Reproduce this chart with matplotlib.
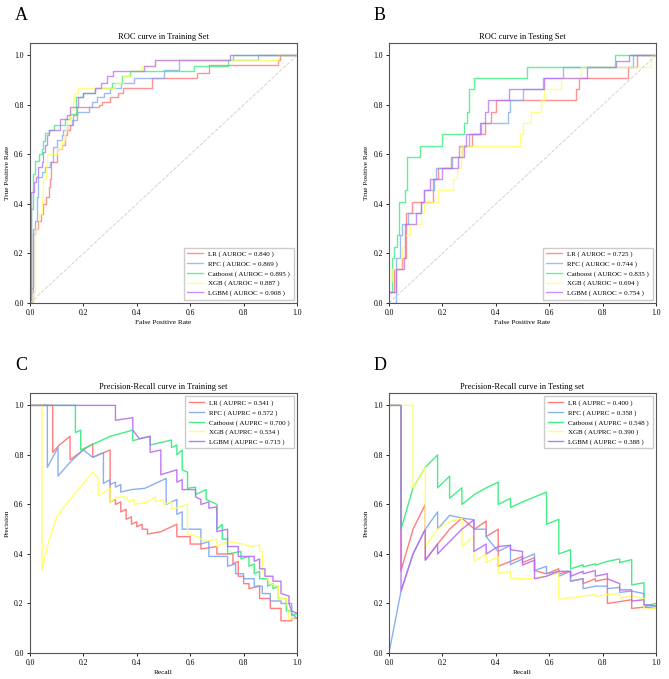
import matplotlib
matplotlib.use('Agg')
from matplotlib import pyplot as plt

plt.rcParams['font.family'] = ['Liberation Serif', 'DejaVu Serif']

models = ['LR', 'RFC', 'Catboost', 'XGB', 'LGBM']
colors = ['#ff6f6f', '#7fa6f0', '#30ec78', '#ffff5c', '#b86cf2']

auroc_train = [0.840, 0.869, 0.895, 0.887, 0.908]
auroc_test = [0.725, 0.744, 0.835, 0.694, 0.754]
auprc_train = [0.541, 0.572, 0.700, 0.534, 0.715]
auprc_test = [0.400, 0.358, 0.548, 0.390, 0.388]

# ROC, training set (corner points, drawn as steps-post)
roc_tr_fpr = {
    'LR': [0, 0.01, 0.03, 0.04, 0.05, 0.06, 0.07, 0.075, 0.08, 0.1, 0.12, 0.13, 0.14, 0.15, 0.16, 0.175, 0.26, 0.27, 0.3, 0.33, 0.35, 0.458, 0.627, 0.671, 0.928, 0.935, 1.0],
    'RFC': [0, 0.005, 0.01, 0.02, 0.025, 0.03, 0.044, 0.056, 0.075, 0.088, 0.1, 0.12, 0.125, 0.138, 0.157, 0.175, 0.22, 0.232, 0.25, 0.276, 0.3, 0.34, 0.39, 0.5, 0.558, 0.853, 1.0],
    'Catboost': [0, 0.003, 0.0125, 0.019, 0.035, 0.044, 0.05, 0.056, 0.073, 0.09, 0.13, 0.15, 0.173, 0.198, 0.245, 0.306, 0.345, 0.376, 0.615, 0.74, 0.76, 1.0],
    'XGB': [0, 0.012, 0.02, 0.035, 0.045, 0.05, 0.06, 0.065, 0.1, 0.12, 0.13, 0.14, 0.15, 0.16, 0.165, 0.18, 0.32, 0.35, 0.38, 0.42, 0.47, 0.93, 1.0],
    'LGBM': [0, 0.003, 0.016, 0.022, 0.03, 0.044, 0.05, 0.056, 0.063, 0.073, 0.113, 0.138, 0.15, 0.18, 0.2, 0.245, 0.265, 0.29, 0.31, 0.427, 0.47, 0.75, 1.0],
}
roc_tr_tpr = {
    'LR': [0, 0.30, 0.33, 0.36, 0.40, 0.43, 0.47, 0.50, 0.57, 0.62, 0.64, 0.68, 0.70, 0.72, 0.76, 0.79, 0.80, 0.81, 0.83, 0.85, 0.87, 0.91, 0.93, 0.96, 0.98, 1.0, 1.0],
    'RFC': [0, 0.06, 0.28, 0.33, 0.43, 0.51, 0.53, 0.55, 0.57, 0.63, 0.66, 0.68, 0.70, 0.72, 0.74, 0.77, 0.79, 0.81, 0.83, 0.85, 0.87, 0.89, 0.91, 0.94, 0.98, 1.0, 1.0],
    'Catboost': [0, 0.38, 0.52, 0.575, 0.60, 0.62, 0.655, 0.685, 0.70, 0.72, 0.745, 0.765, 0.83, 0.85, 0.87, 0.89, 0.915, 0.936, 0.957, 0.98, 1.0, 1.0],
    'XGB': [0, 0.04, 0.30, 0.36, 0.43, 0.50, 0.56, 0.60, 0.62, 0.66, 0.70, 0.74, 0.78, 0.82, 0.85, 0.87, 0.89, 0.915, 0.936, 0.957, 0.98, 1.0, 1.0],
    'LGBM': [0, 0.45, 0.49, 0.51, 0.55, 0.57, 0.61, 0.64, 0.68, 0.70, 0.745, 0.76, 0.79, 0.83, 0.85, 0.87, 0.89, 0.915, 0.936, 0.957, 0.98, 1.0, 1.0],
}

# ROC, testing set
roc_te_fpr = {
    'LR': [0, 0.02, 0.05, 0.065, 0.088, 0.165, 0.184, 0.234, 0.262, 0.31, 0.36, 0.382, 0.40, 0.70, 0.71, 0.895, 0.93, 1.0],
    'RFC': [0, 0.0275, 0.04, 0.05, 0.07, 0.12, 0.13, 0.17, 0.175, 0.235, 0.275, 0.30, 0.345, 0.445, 0.455, 0.50, 0.575, 0.65, 0.915, 1.0],
    'Catboost': [0, 0.01, 0.02, 0.03, 0.0375, 0.059, 0.069, 0.115, 0.20, 0.28, 0.294, 0.30, 0.32, 0.515, 0.845, 1.0],
    'XGB': [0, 0.01, 0.045, 0.05, 0.06, 0.08, 0.12, 0.13, 0.185, 0.24, 0.255, 0.27, 0.275, 0.49, 0.50, 0.53, 0.57, 0.58, 0.645, 0.72, 0.98, 1.0],
    'LGBM': [0, 0.025, 0.055, 0.06, 0.10, 0.12, 0.13, 0.155, 0.20, 0.26, 0.28, 0.29, 0.34, 0.36, 0.37, 0.45, 0.58, 0.74, 0.80, 0.85, 0.90, 1.0],
}
roc_te_tpr = {
    'LR': [0.045, 0.136, 0.182, 0.364, 0.409, 0.50, 0.545, 0.591, 0.636, 0.682, 0.727, 0.773, 0.818, 0.864, 0.909, 0.955, 1.0, 1.0],
    'RFC': [0, 0.182, 0.273, 0.318, 0.364, 0.409, 0.455, 0.50, 0.545, 0.591, 0.636, 0.682, 0.727, 0.773, 0.818, 0.864, 0.909, 0.955, 1.0, 1.0],
    'Catboost': [0.045, 0.182, 0.227, 0.273, 0.409, 0.455, 0.591, 0.636, 0.682, 0.727, 0.773, 0.864, 0.909, 0.955, 1.0, 1.0],
    'XGB': [0.09, 0.136, 0.182, 0.227, 0.273, 0.318, 0.364, 0.409, 0.455, 0.50, 0.545, 0.591, 0.636, 0.682, 0.727, 0.773, 0.818, 0.864, 0.909, 0.955, 1.0, 1.0],
    'LGBM': [0.045, 0.136, 0.182, 0.318, 0.364, 0.409, 0.455, 0.50, 0.545, 0.591, 0.636, 0.682, 0.727, 0.773, 0.818, 0.864, 0.909, 0.955, 0.955, 0.977, 1.0, 1.0],
}

# Precision-Recall, training set (vertices)
pr_tr_rec = {
    'LR': [0, 0.085, 0.085, 0.11, 0.15, 0.15, 0.2, 0.235, 0.235, 0.3, 0.3, 0.32, 0.32, 0.34, 0.34, 0.36, 0.36, 0.38, 0.38, 0.4, 0.4, 0.42, 0.42, 0.44, 0.44, 0.49, 0.55, 0.55, 0.6, 0.6, 0.64, 0.64, 0.7, 0.7, 0.76, 0.76, 0.78, 0.78, 0.8, 0.8, 0.82, 0.82, 0.86, 0.86, 0.9, 0.9, 0.94, 0.94, 0.98, 0.98, 1.0],
    'RFC': [0, 0.065, 0.065, 0.105, 0.105, 0.15, 0.2, 0.235, 0.275, 0.275, 0.3, 0.3, 0.32, 0.32, 0.34, 0.34, 0.38, 0.43, 0.51, 0.51, 0.55, 0.55, 0.57, 0.57, 0.64, 0.64, 0.67, 0.67, 0.74, 0.74, 0.77, 0.77, 0.8, 0.8, 0.84, 0.84, 0.87, 0.87, 0.9, 0.9, 0.94, 0.94, 0.98, 0.98, 1.0],
    'Catboost': [0, 0.17, 0.17, 0.19, 0.19, 0.25, 0.3, 0.385, 0.385, 0.41, 0.45, 0.45, 0.53, 0.53, 0.55, 0.55, 0.57, 0.57, 0.59, 0.59, 0.62, 0.62, 0.66, 0.66, 0.7, 0.7, 0.72, 0.72, 0.74, 0.74, 0.79, 0.79, 0.82, 0.82, 0.84, 0.84, 0.86, 0.86, 0.89, 0.89, 0.91, 0.91, 0.93, 0.93, 0.96, 0.96, 0.98, 0.98, 1.0],
    'XGB': [0, 0.045, 0.045, 0.07, 0.1, 0.15, 0.2, 0.235, 0.255, 0.255, 0.3, 0.3, 0.33, 0.36, 0.37, 0.39, 0.39, 0.44, 0.47, 0.47, 0.5, 0.5, 0.53, 0.53, 0.59, 0.59, 0.63, 0.65, 0.7, 0.7, 0.74, 0.8, 0.82, 0.86, 0.86, 0.87, 0.87, 0.89, 0.9, 0.93, 0.93, 0.96, 0.97, 1.0],
    'LGBM': [0, 0.32, 0.32, 0.385, 0.385, 0.41, 0.45, 0.45, 0.49, 0.49, 0.55, 0.55, 0.57, 0.57, 0.62, 0.62, 0.64, 0.64, 0.67, 0.67, 0.7, 0.7, 0.74, 0.74, 0.78, 0.78, 0.84, 0.84, 0.86, 0.86, 0.88, 0.88, 0.91, 0.91, 0.94, 0.94, 0.97, 0.97, 0.98, 1.0],
}
pr_tr_prec = {
    'LR': [1, 1, 0.81, 0.84, 0.875, 0.78, 0.82, 0.845, 0.79, 0.82, 0.61, 0.62, 0.60, 0.61, 0.57, 0.58, 0.54, 0.55, 0.52, 0.53, 0.51, 0.52, 0.50, 0.50, 0.48, 0.49, 0.52, 0.47, 0.47, 0.44, 0.44, 0.42, 0.43, 0.40, 0.40, 0.36, 0.37, 0.31, 0.31, 0.28, 0.28, 0.26, 0.27, 0.22, 0.22, 0.18, 0.18, 0.13, 0.13, 0.14, 0.14],
    'RFC': [1, 1, 0.75, 0.83, 0.715, 0.77, 0.82, 0.79, 0.81, 0.685, 0.70, 0.68, 0.69, 0.67, 0.68, 0.65, 0.66, 0.665, 0.705, 0.60, 0.62, 0.56, 0.57, 0.50, 0.50, 0.44, 0.45, 0.39, 0.39, 0.35, 0.36, 0.32, 0.32, 0.30, 0.30, 0.27, 0.27, 0.24, 0.24, 0.21, 0.21, 0.20, 0.20, 0.16, 0.14],
    'Catboost': [1, 1, 0.89, 0.90, 0.82, 0.85, 0.875, 0.90, 0.857, 0.865, 0.875, 0.84, 0.86, 0.83, 0.84, 0.80, 0.82, 0.74, 0.73, 0.665, 0.67, 0.64, 0.66, 0.62, 0.60, 0.50, 0.52, 0.46, 0.46, 0.40, 0.41, 0.38, 0.39, 0.35, 0.36, 0.32, 0.33, 0.30, 0.30, 0.27, 0.28, 0.26, 0.27, 0.22, 0.22, 0.17, 0.17, 0.15, 0.16],
    'XGB': [1, 1, 0.335, 0.45, 0.55, 0.62, 0.685, 0.73, 0.705, 0.635, 0.665, 0.61, 0.63, 0.63, 0.61, 0.62, 0.60, 0.61, 0.63, 0.61, 0.62, 0.60, 0.61, 0.58, 0.60, 0.48, 0.47, 0.45, 0.46, 0.43, 0.45, 0.44, 0.43, 0.435, 0.41, 0.41, 0.33, 0.30, 0.28, 0.27, 0.22, 0.22, 0.14, 0.135],
    'LGBM': [1, 1, 0.94, 0.95, 0.90, 0.865, 0.875, 0.81, 0.82, 0.72, 0.74, 0.69, 0.70, 0.66, 0.66, 0.63, 0.62, 0.60, 0.61, 0.585, 0.59, 0.49, 0.50, 0.43, 0.43, 0.39, 0.39, 0.37, 0.38, 0.34, 0.34, 0.31, 0.31, 0.29, 0.29, 0.24, 0.23, 0.20, 0.17, 0.16],
}

# Precision-Recall, testing set (vertices)
pr_te_rec = {
    'LR': [0, 0.045, 0.045, 0.09, 0.136, 0.136, 0.182, 0.227, 0.273, 0.32, 0.364, 0.364, 0.409, 0.409, 0.455, 0.5, 0.5, 0.545, 0.545, 0.59, 0.636, 0.636, 0.68, 0.68, 0.727, 0.727, 0.773, 0.773, 0.818, 0.818, 0.909, 0.909, 0.955, 1.0],
    'RFC': [0, 0.045, 0.09, 0.136, 0.182, 0.182, 0.227, 0.273, 0.318, 0.318, 0.364, 0.364, 0.409, 0.455, 0.455, 0.5, 0.545, 0.545, 0.59, 0.59, 0.636, 0.636, 0.68, 0.68, 0.727, 0.727, 0.773, 0.818, 0.818, 0.864, 0.864, 0.909, 0.955, 0.955, 1.0],
    'Catboost': [0, 0.045, 0.045, 0.09, 0.136, 0.182, 0.182, 0.227, 0.227, 0.273, 0.273, 0.32, 0.364, 0.409, 0.409, 0.455, 0.455, 0.5, 0.545, 0.59, 0.59, 0.636, 0.636, 0.68, 0.68, 0.727, 0.727, 0.773, 0.773, 0.818, 0.864, 0.864, 0.909, 0.909, 0.955, 0.955, 1.0],
    'XGB': [0, 0.09, 0.09, 0.136, 0.136, 0.182, 0.227, 0.273, 0.273, 0.318, 0.318, 0.364, 0.364, 0.409, 0.409, 0.455, 0.455, 0.5, 0.5, 0.59, 0.636, 0.636, 0.68, 0.68, 0.727, 0.773, 0.773, 0.818, 0.864, 0.864, 0.909, 0.955, 0.955, 1.0],
    'LGBM': [0, 0.045, 0.045, 0.09, 0.136, 0.136, 0.182, 0.182, 0.227, 0.273, 0.318, 0.318, 0.364, 0.364, 0.409, 0.455, 0.455, 0.5, 0.5, 0.545, 0.545, 0.59, 0.636, 0.68, 0.68, 0.727, 0.727, 0.773, 0.773, 0.818, 0.818, 0.864, 0.864, 0.909, 0.909, 0.955, 0.955, 1.0],
}
pr_te_prec = {
    'LR': [1, 1, 0.333, 0.50, 0.60, 0.375, 0.44, 0.50, 0.545, 0.50, 0.533, 0.47, 0.50, 0.35, 0.37, 0.39, 0.365, 0.385, 0.333, 0.32, 0.34, 0.32, 0.33, 0.29, 0.30, 0.28, 0.30, 0.29, 0.30, 0.20, 0.215, 0.18, 0.185, 0.18],
    'RFC': [0, 0.25, 0.40, 0.50, 0.57, 0.50, 0.556, 0.545, 0.538, 0.50, 0.50, 0.47, 0.41, 0.435, 0.357, 0.38, 0.40, 0.333, 0.35, 0.32, 0.33, 0.31, 0.33, 0.29, 0.30, 0.26, 0.27, 0.27, 0.26, 0.265, 0.245, 0.25, 0.24, 0.19, 0.19],
    'Catboost': [1, 1, 0.50, 0.667, 0.75, 0.80, 0.667, 0.714, 0.625, 0.667, 0.60, 0.64, 0.667, 0.69, 0.60, 0.625, 0.588, 0.61, 0.63, 0.65, 0.52, 0.54, 0.40, 0.417, 0.34, 0.356, 0.348, 0.36, 0.355, 0.37, 0.38, 0.365, 0.377, 0.275, 0.284, 0.19, 0.20],
    'XGB': [1, 1, 0.667, 0.75, 0.43, 0.50, 0.53, 0.545, 0.43, 0.47, 0.37, 0.40, 0.365, 0.39, 0.32, 0.33, 0.303, 0.30, 0.297, 0.31, 0.325, 0.215, 0.225, 0.222, 0.23, 0.235, 0.228, 0.236, 0.24, 0.222, 0.23, 0.22, 0.176, 0.18],
    'LGBM': [1, 1, 0.25, 0.40, 0.50, 0.375, 0.44, 0.40, 0.45, 0.50, 0.538, 0.41, 0.44, 0.40, 0.43, 0.435, 0.417, 0.41, 0.355, 0.375, 0.30, 0.31, 0.33, 0.33, 0.31, 0.33, 0.32, 0.333, 0.31, 0.32, 0.30, 0.28, 0.255, 0.255, 0.21, 0.215, 0.196, 0.19],
}

W, H = 669, 679
fig = plt.figure(figsize=(W / 100, H / 100), dpi=100)

# axes boxes in pixels: left, top ; letter centre y
boxes = [(30, 43, 15), (389, 43, 15), (30, 393, 366), (389, 393, 366)]
letters = ['A', 'B', 'C', 'D']
axes = []
for (lx, ty, ly), letter in zip(boxes, letters):
    ax = fig.add_axes([lx / W, 1 - (ty + 260) / H, 267 / W, 260 / H])
    axes.append(ax)
    fig.text((lx - 15) / W, 1 - ly / H, letter, fontsize=13, va='center')

def style(ax, title, xlabel, ylabel):
    ax.set_xlim(0, 1)
    ax.set_ylim(0, 1.05)
    ax.set_xticks([0, 0.2, 0.4, 0.6, 0.8, 1.0])
    ax.set_yticks([0, 0.2, 0.4, 0.6, 0.8, 1.0])
    ax.tick_params(labelsize=5.5, length=2.5, width=0.6, pad=2)
    ax.set_title(title, fontsize=6, pad=3)
    ax.set_xlabel(xlabel, fontsize=5.2, labelpad=2)
    ax.set_ylabel(ylabel, fontsize=5.2, labelpad=3)
    for s in ax.spines.values():
        s.set_color('#555555')
        s.set_linewidth(0.8)

def roc_panel(ax, fpr, tpr, auc, title):
    for m, c, a in zip(models, colors, auc):
        ax.plot(fpr[m], tpr[m], drawstyle='steps-post', color=c, lw=1, alpha=0.75,
                label=f'{m} ( AUROC = {a:.3f} )')
    ax.plot([0, 1], [0, 1], ls='--', color='lightgray', lw=0.7)
    style(ax, title, 'False Positive Rate', 'True Positive Rate')
    ax.legend(loc='lower right', fontsize=5, handlelength=2.2, borderpad=0.5,
              labelspacing=0.5, fancybox=False, edgecolor='#cccccc', framealpha=1)

def pr_panel(ax, rec, prec, auc, title):
    for m, c, a in zip(models, colors, auc):
        ax.plot(rec[m], prec[m], color=c, lw=1, alpha=0.9,
                label=f'{m} ( AUPRC = {a:.3f} )')
    style(ax, title, 'Recall', 'Precision')
    ax.legend(loc='upper right', fontsize=5, handlelength=2.2, borderpad=0.5,
              labelspacing=0.5, fancybox=False, edgecolor='#cccccc', framealpha=1)

roc_panel(axes[0], roc_tr_fpr, roc_tr_tpr, auroc_train, 'ROC curve in Training Set')
roc_panel(axes[1], roc_te_fpr, roc_te_tpr, auroc_test, 'ROC curve in Testing Set')
pr_panel(axes[2], pr_tr_rec, pr_tr_prec, auprc_train, 'Precision-Recall curve in Training set')
pr_panel(axes[3], pr_te_rec, pr_te_prec, auprc_test, 'Precision-Recall curve in Testing set')

fig.savefig('out.png', dpi=100)
